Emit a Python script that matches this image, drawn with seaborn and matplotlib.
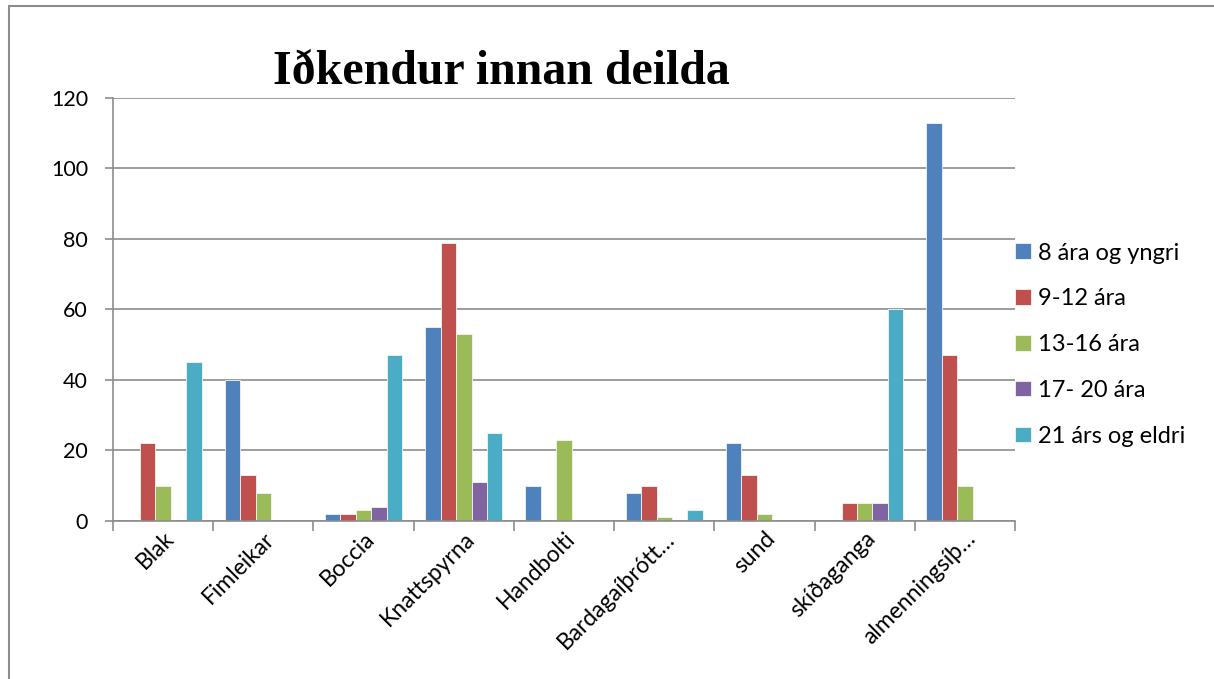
import matplotlib.pyplot as plt
import seaborn as sns
import numpy as np
import pandas as pd
from matplotlib.lines import Line2D

categories = ["Blak", "Fimleikar", "Boccia", "Knattspyrna", "Handbolti",
              "Bardagaíþrótt…", "sund", "skíðaganga", "almenningsíþ…"]
groups = ["8 ára og yngri", "9-12 ára", "13-16 ára", "17- 20 ára", "21 árs og eldri"]

age_8 = [0, 40, 2, 55, 10, 8, 22, 0, 113]
age_9_12 = [22, 13, 2, 79, 0, 10, 13, 5, 47]
age_13_16 = [10, 8, 3, 53, 23, 1, 2, 5, 10]
age_17_20 = [0, 0, 4, 11, 0, 0, 0, 5, 0]
age_21 = [45, 0, 47, 25, 0, 3, 0, 60, 0]

colors = ["#4F81BD", "#C0504D", "#9BBB59", "#8064A2", "#4BACC6"]

series = [age_8, age_9_12, age_13_16, age_17_20, age_21]
rows = []
for g, vals in zip(groups, series):
    for c, v in zip(categories, vals):
        rows.append({"cat": c, "group": g, "value": v})
df = pd.DataFrame(rows)

sns.set_theme(style="white")
plt.rcParams["font.family"] = ["Lato", "DejaVu Sans"]
plt.rcParams["text.color"] = "black"
plt.rcParams["xtick.color"] = "black"
plt.rcParams["ytick.color"] = "black"

fig = plt.figure(figsize=(12.14, 6.79), dpi=100)
ax = fig.add_axes([0.0931, 0.2327, 0.7430, 0.6230])

sns.barplot(data=df, x="cat", y="value", hue="group", order=categories,
            hue_order=groups, palette=colors, saturation=1, width=0.77, gap=0,
            edgecolor="#f4f4f4", linewidth=0.6, ax=ax)

ax.set_ylim(0, 120)
ax.set_xlim(-0.5, len(categories) - 0.5)
ax.set_yticks(np.arange(0, 121, 20))
ax.yaxis.grid(True, color="#8c8c8c", linewidth=1.2)
ax.set_axisbelow(True)
ax.set_xlabel("")
ax.set_ylabel("")

for side in ["top", "right"]:
    ax.spines[side].set_visible(False)
for side in ["left", "bottom"]:
    ax.spines[side].set_color("#8c8c8c")
    ax.spines[side].set_linewidth(1.2)

ax.tick_params(axis="y", which="major", length=6, width=1.2, color="#8c8c8c",
               labelsize=15.5, pad=12, left=True)
# category boundary ticks, labels on the centres
ax.set_xticks(np.arange(-0.5, len(categories), 1.0), minor=True)
ax.tick_params(axis="x", which="minor", length=7, width=1.2, color="#8c8c8c", bottom=True)
ax.tick_params(axis="x", which="major", length=0, labelsize=16.5, pad=5)
ax.set_xticks(range(len(categories)))
ax.set_xticklabels(categories, rotation=45, ha="right", rotation_mode="anchor")

ax.set_title("Iðkendur innan deilda", fontsize=34.5, fontweight="bold", color="black",
             family=["Liberation Serif", "DejaVu Serif"], x=0.43, pad=10)

handles, labels = ax.get_legend_handles_labels()
ax.legend(handles, labels, loc="center left", bbox_to_anchor=(0.99, 0.417),
          frameon=False, fontsize=17, handlelength=0.65, handleheight=0.65,
          handletextpad=0.3, labelspacing=1.05, borderaxespad=0.0)

# chart frame (left and top edges)
fig.add_artist(Line2D([0.0075, 0.0075], [0.0, 0.991], transform=fig.transFigure,
                      color="#8c8c8c", linewidth=1.5))
fig.add_artist(Line2D([0.0075, 1.0], [0.991, 0.991], transform=fig.transFigure,
                      color="#8c8c8c", linewidth=1.5))

fig.savefig("out.png", dpi=100)
